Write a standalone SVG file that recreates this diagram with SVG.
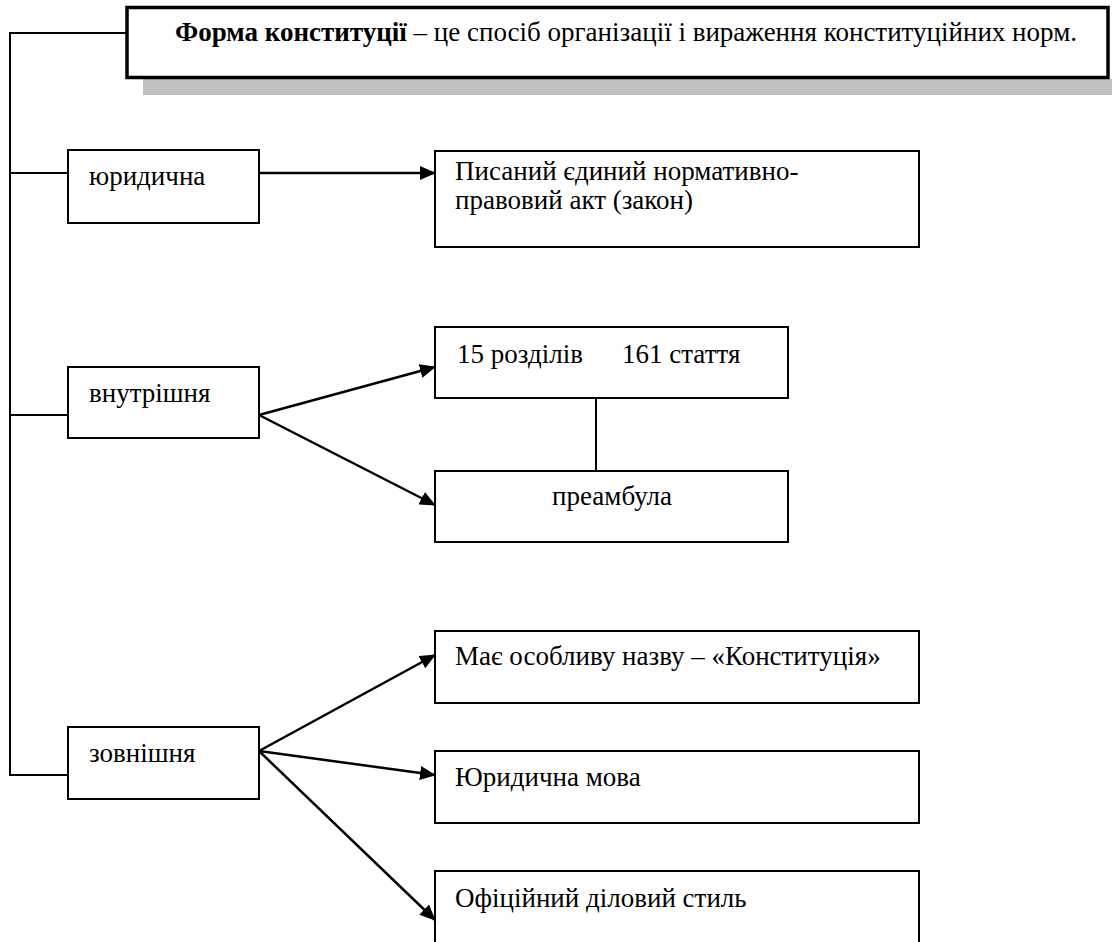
<svg xmlns="http://www.w3.org/2000/svg" width="1112" height="942" viewBox="0 0 1112 942">
<defs>
<style>
text{font-family:'Liberation Serif','Times New Roman',serif;font-size:27px;fill:#000}
.box{fill:#fff;stroke:#000;stroke-width:2}
.ln{fill:none;stroke:#000;stroke-width:2}
.ar{fill:none;stroke:#000;stroke-width:2.5;marker-end:url(#ah)}
</style>
<marker id="ah" markerUnits="userSpaceOnUse" markerWidth="16" markerHeight="14" refX="15" refY="7" orient="auto">
<path d="M0,0 L16,7 L0,14 Z" fill="#000"/>
</marker>
</defs>
<rect width="1112" height="942" fill="#fff"/>
<g id="connectors">
<polyline class="ln" points="127,33 10,33 10,775 68,775"/>
<line class="ln" x1="10" y1="173" x2="68" y2="173"/>
<line class="ln" x1="10" y1="415" x2="68" y2="415"/>
<line class="ln" x1="596" y1="398" x2="596" y2="471"/>
<line class="ar" x1="259" y1="173" x2="435" y2="173"/>
<line class="ar" x1="259" y1="415" x2="435" y2="367"/>
<line class="ar" x1="259" y1="415" x2="435" y2="505"/>
<line class="ar" x1="259" y1="751" x2="435" y2="655"/>
<line class="ar" x1="259" y1="751" x2="435" y2="775"/>
<line class="ar" x1="259" y1="751" x2="435" y2="920"/>
</g>
<g id="title">
<rect x="143" y="79" width="975" height="16" fill="#c0c0c0"/>
<rect x="127" y="7.5" width="981" height="70" fill="#fff" stroke="#000" stroke-width="3.5"/>
<text x="175" y="41"><tspan font-weight="bold">Форма конституції</tspan> – це спосіб організації і вираження конституційних норм.</text>
</g>
<g id="n-yurydychna">
<rect class="box" x="68" y="150" width="191" height="73"/>
<text x="89" y="185">юридична</text>
</g>
<g id="n-pysanyi">
<rect class="box" x="435" y="151" width="484" height="96"/>
<text x="455" y="180">Писаний єдиний нормативно-</text>
<text x="455" y="209">правовий акт (закон)</text>
</g>
<g id="n-vnutrishnia">
<rect class="box" x="68" y="367" width="191" height="71"/>
<text x="89" y="402">внутрішня</text>
</g>
<g id="n-rozdily">
<rect class="box" x="435" y="327" width="353" height="71"/>
<text x="457" y="363">15 розділів</text>
<text x="622" y="363">161 стаття</text>
</g>
<g id="n-preambula">
<rect class="box" x="435" y="471" width="353" height="71"/>
<text x="612" y="505" text-anchor="middle">преамбула</text>
</g>
<g id="n-zovnishnia">
<rect class="box" x="68" y="727" width="191" height="72"/>
<text x="89" y="762">зовнішня</text>
</g>
<g id="n-nazva">
<rect class="box" x="435" y="631" width="484" height="72"/>
<text x="455" y="665">Має особливу назву – «Конституція»</text>
</g>
<g id="n-mova">
<rect class="box" x="435" y="751" width="484" height="72"/>
<text x="455" y="786">Юридична мова</text>
</g>
<g id="n-styl">
<rect class="box" x="435" y="871" width="484" height="90"/>
<text x="455" y="907">Офіційний діловий стиль</text>
</g>
</svg>
